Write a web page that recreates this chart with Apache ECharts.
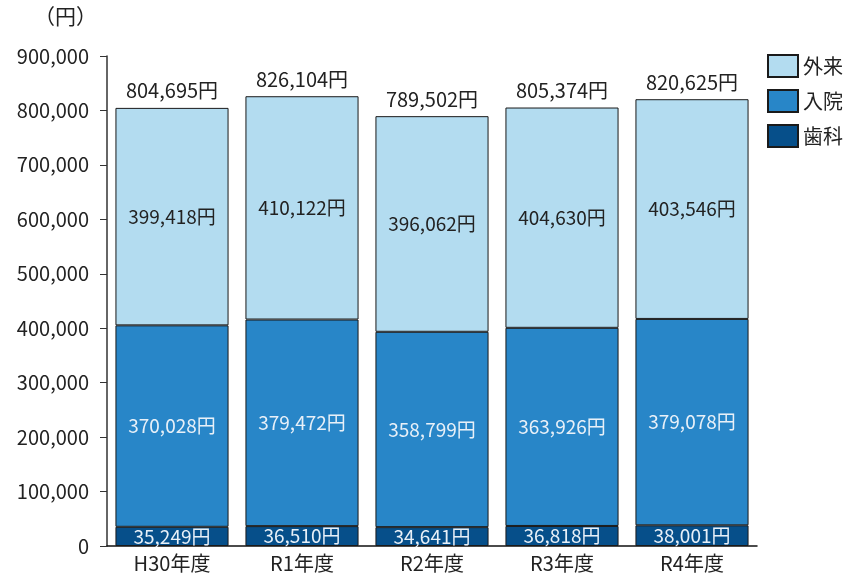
<!DOCTYPE html>
<html><head><meta charset="utf-8">
<script src="https://cdn.jsdelivr.net/npm/echarts@6/dist/echarts.min.js"></script>
<style>html,body{margin:0;padding:0;background:#fff}#c{width:849px;height:574px}</style>
</head><body><div id="c"></div>
<script>
const categories = ['H30年度','R1年度','R2年度','R3年度','R4年度'];
const dental = [35249, 36510, 34641, 36818, 38001];
const inpatient = [370028, 379472, 358799, 363926, 379078];
const outpatient = [399418, 410122, 396062, 404630, 403546];
const totals = [804695, 826104, 789502, 805374, 820625];
const yTicks = [0, 100000, 200000, 300000, 400000, 500000, 600000, 700000, 800000, 900000];

const FONT = '"Noto Sans CJK JP", "Noto Sans", sans-serif';
const fmt = v => v.toLocaleString('en-US');
const chart = echarts.init(document.getElementById('c'), null, {renderer:'canvas'});
const border = {borderColor:'#1a1a1a', borderWidth:1};
chart.setOption({
  animation:false,
  textStyle:{fontFamily:FONT},
  grid:{left:107, right:92, top:56, bottom:28, containLabel:false},
  graphic:[{type:'text', left:34, top:6, style:{text:'（円）', font:'21px '+FONT, fill:'#222'}}],
  legend:{
    orient:'vertical', left:767, top:54, padding:0, itemWidth:30, itemHeight:22, itemGap:11,
    textStyle:{fontSize:20, color:'#222', fontFamily:FONT},
    data:['外来','入院','歯科'],
    icon:'rect'
  },
  xAxis:{
    type:'category', data:categories,
    axisLine:{lineStyle:{color:'#111', width:1.5}},
    axisTick:{show:false},
    axisLabel:{fontSize:20, color:'#222', margin:7, fontFamily:FONT}
  },
  yAxis:{
    type:'value', min:0, max:900000, interval:100000,
    axisLine:{show:true, lineStyle:{color:'#333', width:1.5}},
    axisTick:{show:true, inside:false, length:7, lineStyle:{color:'#333'}},
    splitLine:{show:false},
    axisLabel:{fontSize:20, color:'#222', margin:18, fontFamily:FONT,
      formatter:v => yTicks.includes(v) ? fmt(v) : ''}
  },
  series:[
    {name:'歯科', type:'bar', stack:'s', barCategoryGap:'13%', data:dental,
      itemStyle:Object.assign({color:'#064f8a'}, border),
      label:{show:true, position:'inside', color:'#e8f0f8', fontSize:19, fontFamily:FONT, formatter:p=>fmt(p.value)+'円'}},
    {name:'入院', type:'bar', stack:'s', data:inpatient,
      itemStyle:Object.assign({color:'#2886c8'}, border),
      label:{show:true, position:'inside', color:'#e8f0f8', fontSize:19, fontFamily:FONT, formatter:p=>fmt(p.value)+'円'}},
    {name:'外来', type:'bar', stack:'s', data:outpatient,
      itemStyle:Object.assign({color:'#b3dcf0'}, border),
      label:{show:true, position:'inside', color:'#222', fontSize:19, fontFamily:FONT, formatter:p=>fmt(p.value)+'円'}},
    {name:'合計', type:'bar', stack:'s', data:totals.map(()=>0),
      itemStyle:{color:'transparent', borderWidth:0},
      label:{show:true, position:'top', distance:7, color:'#222', fontSize:20, fontFamily:FONT,
        formatter:p=>fmt(totals[p.dataIndex])+'円'}}
  ]
});
</script></body></html>
